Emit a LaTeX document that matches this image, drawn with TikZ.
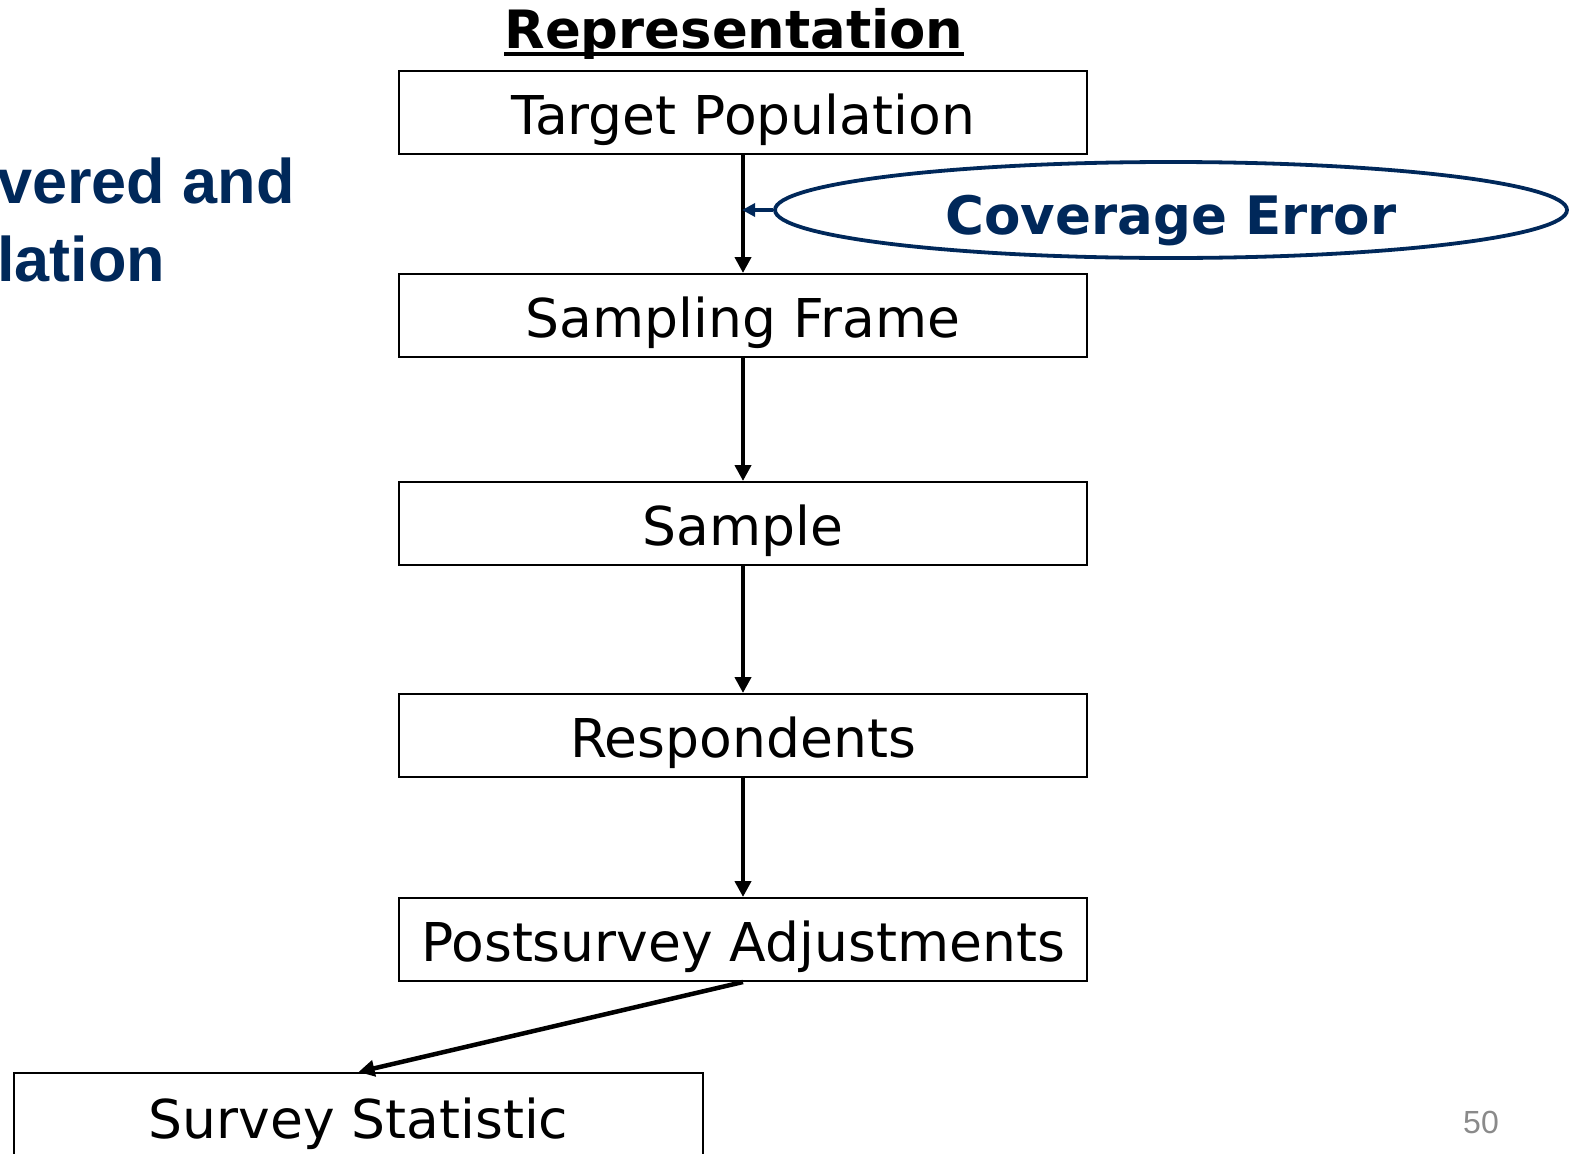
\documentclass[tikz,border=0pt]{standalone}
\usepackage{fontspec}
\setmainfont{DejaVu Sans}
\newfontfamily\arialfont{Liberation Sans}
\usetikzlibrary{shapes.geometric,arrows.meta}
\definecolor{navy}{HTML}{00285A}
\definecolor{pagegray}{HTML}{8A8A8A}
\begin{document}
\begin{tikzpicture}[x=1pt,y=-1pt,
  stagebox/.style={draw=black,line width=2pt,minimum width=688pt,minimum height=83pt,inner sep=0pt,
    text height=63.5pt,text depth=19.5pt,font=\fontsize{53.5}{60}\selectfont,text=black},
  flow/.style={line width=4pt,-{Triangle[length=16pt,width=16pt]}},
  errflow/.style={line width=3.5pt,draw=navy,-{Triangle[length=13pt,width=13pt]},shorten >=-1pt}]
\clip (0,0) rectangle (1583,1154);
\useasboundingbox (0,0) rectangle (1583,1154);
\fill[white] (0,0) rectangle (1583,1154);

\node[inner sep=0pt,anchor=base,font=\bfseries\fontsize{52.8}{56}\selectfont] (title) at (734,48) {Representation};
\draw[line width=3.5pt] ([yshift=-6pt]title.base west) -- ([yshift=-6pt]title.base east);

\node[stagebox] (tp) at (743,112) {Target Population};
\node[stagebox] (sf) at (743,315.5) {Sampling Frame};
\node[stagebox] (sa) at (743,523.5) {Sample};
\node[stagebox] (re) at (743,735.5) {Respondents};
\node[stagebox] (pa) at (743,939.5) {Postsurvey Adjustments};
\node[stagebox,minimum width=689pt,text height=65pt,text depth=23pt] (ss) at (358.5,1117) {Survey Statistic};

\node[ellipse,draw=navy,line width=3.8pt,minimum width=792pt,minimum height=96pt,inner sep=0pt,
  text height=50pt,text depth=2pt,
  text=navy,font=\bfseries\fontsize{53}{60}\selectfont] (ce) at (1171,210) {Coverage Error};
\coordinate (hit) at (743,210);

\draw[flow] (tp.south) -- (sf.north);
\draw[flow] (sf.south) -- (sa.north);
\draw[flow] (sa.south) -- (re.north);
\draw[flow] (re.south) -- (pa.north);
\draw[flow,line width=4.5pt] (pa.south) -- (ss.north);
\draw[errflow] (ce.west) -- (hit);

\node[anchor=base west,inner sep=0pt,align=left,text=navy,font=\arialfont\bfseries\fontsize{63}{78}\selectfont] (lt) at (-3,281) {vered and\\lation};

\node[anchor=base,inner sep=0pt,text=pagegray,font=\arialfont\fontsize{32}{36}\selectfont] (pg) at (1481,1133) {50};
\end{tikzpicture}
\end{document}
